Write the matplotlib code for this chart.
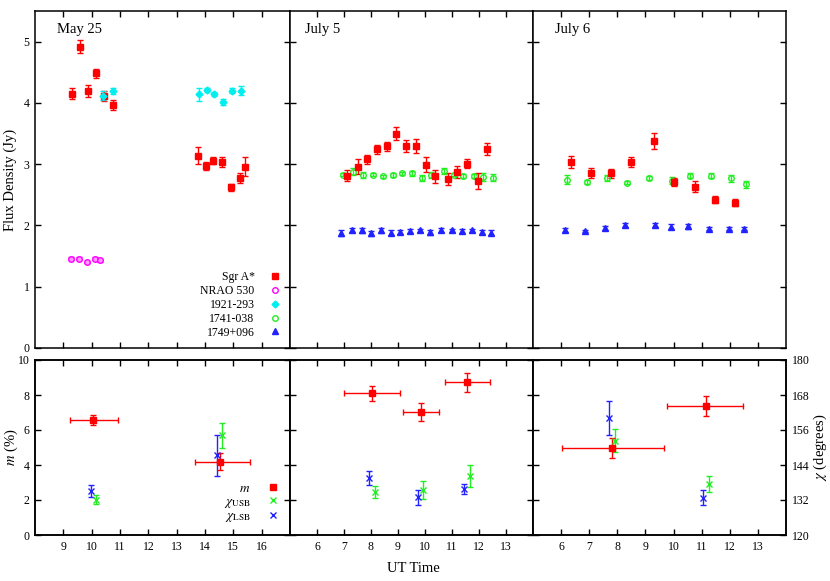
import matplotlib
matplotlib.use("Agg")
import matplotlib.pyplot as plt
from matplotlib.lines import Line2D
import numpy as np

plt.rcParams['font.family'] = ['Liberation Serif', 'DejaVu Serif']
plt.rcParams['mathtext.fontset'] = 'stix'

# ---------------- data ----------------
# May 25
sgr_may_t = [9.32, 9.59, 9.87, 10.14, 10.45, 10.77, 13.75, 14.03, 14.29, 14.60, 14.92, 15.22, 15.42]
sgr_may_f = [4.15, 4.92, 4.20, 4.48, 4.11, 3.96, 3.14, 2.97, 3.06, 3.04, 2.62, 2.77, 2.96]
sgr_may_e = [0.09, 0.11, 0.10, 0.08, 0.08, 0.08, 0.14, 0.07, 0.06, 0.08, 0.05, 0.08, 0.16]

nrao_may_t = [9.28, 9.55, 9.82, 10.10, 10.28]
nrao_may_f = [1.46, 1.46, 1.40, 1.46, 1.43]
nrao_may_e = [0.02, 0.02, 0.02, 0.02, 0.02]

q1921_may_t = [10.40, 10.77, 13.80, 14.06, 14.33, 14.65, 14.95, 15.28]
q1921_may_f = [4.12, 4.20, 4.14, 4.21, 4.15, 4.02, 4.20, 4.20]
q1921_may_e = [0.08, 0.05, 0.11, 0.03, 0.03, 0.05, 0.04, 0.07]

# July 5
sgr_j5_t = [7.11, 7.50, 7.87, 8.23, 8.58, 8.94, 9.31, 9.68, 10.02, 10.38, 10.85, 11.20, 11.55, 11.95, 12.31]
sgr_j5_f = [2.81, 2.96, 3.08, 3.24, 3.29, 3.50, 3.30, 3.30, 2.99, 2.80, 2.76, 2.87, 3.01, 2.72, 3.25]
sgr_j5_e = [0.09, 0.12, 0.07, 0.07, 0.07, 0.10, 0.10, 0.11, 0.12, 0.11, 0.10, 0.10, 0.08, 0.13, 0.10]

q1741_j5_t = [6.96, 7.32, 7.71, 8.09, 8.44, 8.80, 9.15, 9.51, 9.88, 10.23, 10.70, 11.06, 11.42, 11.80, 12.16, 12.50]
q1741_j5_f = [2.83, 2.88, 2.83, 2.83, 2.80, 2.82, 2.85, 2.85, 2.78, 2.83, 2.89, 2.83, 2.81, 2.81, 2.79, 2.78]
q1741_j5_e = [0.03, 0.06, 0.05, 0.03, 0.03, 0.03, 0.03, 0.04, 0.05, 0.05, 0.05, 0.03, 0.03, 0.03, 0.06, 0.06]

q1749_j5_t = [6.90, 7.31, 7.67, 8.01, 8.37, 8.73, 9.09, 9.44, 9.81, 10.17, 10.59, 11.00, 11.36, 11.73, 12.10, 12.44]
q1749_j5_f = [1.87, 1.93, 1.92, 1.87, 1.92, 1.88, 1.89, 1.91, 1.92, 1.89, 1.93, 1.92, 1.91, 1.92, 1.89, 1.88]
q1749_j5_e = [0.05, 0.03, 0.04, 0.04, 0.04, 0.04, 0.03, 0.03, 0.03, 0.04, 0.03, 0.03, 0.03, 0.03, 0.03, 0.04]

# July 6
sgr_j6_t = [6.35, 7.06, 7.78, 8.49, 9.29, 10.00, 10.76, 11.46, 12.18]
sgr_j6_f = [3.03, 2.86, 2.85, 3.03, 3.38, 2.71, 2.63, 2.42, 2.37]
sgr_j6_e = [0.10, 0.08, 0.07, 0.08, 0.13, 0.07, 0.09, 0.06, 0.06]

q1741_j6_t = [6.20, 6.92, 7.63, 8.34, 9.13, 9.94, 10.59, 11.32, 12.03, 12.59]
q1741_j6_f = [2.75, 2.71, 2.77, 2.70, 2.78, 2.73, 2.81, 2.81, 2.77, 2.67]
q1741_j6_e = [0.07, 0.03, 0.05, 0.03, 0.03, 0.06, 0.04, 0.04, 0.06, 0.06]

q1749_j6_t = [6.14, 6.86, 7.57, 8.28, 9.33, 9.91, 10.50, 11.27, 11.97, 12.52]
q1749_j6_f = [1.93, 1.91, 1.96, 2.01, 2.01, 1.98, 1.99, 1.95, 1.95, 1.95]
q1749_j6_e = [0.03, 0.02, 0.03, 0.03, 0.03, 0.04, 0.04, 0.02, 0.03, 0.02]

# Polarization: m (%) with time ranges, chi (degrees) USB / LSB
m_may_t = [10.06, 14.52]
m_may_v = [6.57, 4.19]
m_may_e = [0.30, 0.50]
m_may_lo = [9.22, 13.64]
m_may_hi = [10.93, 15.59]
usb_may_t = [10.17, 14.59]
usb_may_v = [132.1, 154.2]
usb_may_e = [1.6, 4.2]
lsb_may_t = [9.97, 14.41]
lsb_may_v = [135.2, 147.3]
lsb_may_e = [2.0, 6.9]

m_j5_t = [8.04, 9.84, 11.57]
m_j5_v = [8.09, 7.01, 8.72]
m_j5_e = [0.45, 0.52, 0.53]
m_j5_lo = [7.00, 9.19, 10.74]
m_j5_hi = [9.06, 10.50, 12.42]
usb_j5_t = [8.13, 9.94, 11.67]
usb_j5_v = [134.7, 135.4, 140.3]
usb_j5_e = [2.1, 3.2, 3.7]
lsb_j5_t = [7.94, 9.74, 11.46]
lsb_j5_v = [139.6, 132.9, 135.8]
lsb_j5_e = [2.5, 2.5, 1.8]

m_j6_t = [7.80, 11.15]
m_j6_v = [4.97, 7.39]
m_j6_e = [0.56, 0.58]
m_j6_lo = [6.04, 9.78]
m_j6_hi = [9.66, 12.46]
usb_j6_t = [7.91, 11.25]
usb_j6_v = [152.4, 137.5]
usb_j6_e = [3.8, 2.6]
lsb_j6_t = [7.69, 11.04]
lsb_j6_v = [160.0, 132.8]
lsb_j6_e = [5.8, 2.6]

panel_titles = ["May 25", "July 5", "July 6"]
xlims = [(8, 17), (5, 14), (5, 14)]
xticks = [list(range(9, 17)), list(range(6, 14)), list(range(6, 14))]
flux_ticks = [0, 1, 2, 3, 4, 5]
m_ticks = [0, 2, 4, 6, 8, 10]
chi_ticks = [120, 132, 144, 156, 168, 180]

# ---------------- style ----------------
RED = '#ff0000'
MAG = '#ff00ff'
CYAN = '#00eeee'
GREEN = '#22ee22'
BLUE = '#2222ff'
TICKFS = 8.5

W, H = 830, 581
fig = plt.figure(figsize=(W / 100, H / 100), dpi=100)

xpix = [(35, 290), (290, 533), (533, 786)]
top_y = (11, 348)
bot_y = (360, 535)


def rect(xp, yp):
    return [xp[0] / W, 1 - yp[1] / H, (xp[1] - xp[0]) / W, (yp[1] - yp[0]) / H]


def style(ax):
    ax.tick_params(direction='in', top=True, right=True, length=4, width=1,
                   labelsize=TICKFS, pad=4)
    for s in ax.spines.values():
        s.set_linewidth(1.1)


eb_kw = dict(linestyle='none', capsize=2.2, elinewidth=1.0, capthick=1.0)

top_axes = []
bot_axes = []
for i in range(3):
    ax = fig.add_axes(rect(xpix[i], top_y))
    ax.set_xlim(*xlims[i])
    ax.set_ylim(0, 5.5)
    ax.set_xticks(xticks[i])
    ax.set_yticks(flux_ticks)
    style(ax)
    ax.tick_params(labelbottom=False)
    if i > 0:
        ax.tick_params(labelleft=False)
    ax.text(0.085 if i != 1 else 0.062, 0.945, panel_titles[i], transform=ax.transAxes,
            fontsize=10.5, va='center', ha='left')
    top_axes.append(ax)

    bx = fig.add_axes(rect(xpix[i], bot_y))
    bx.set_xlim(*xlims[i])
    bx.set_ylim(0, 10)
    bx.set_xticks(xticks[i])
    bx.set_yticks(m_ticks)
    style(bx)
    bx.tick_params(right=False)
    if i > 0:
        bx.tick_params(labelleft=False)
    tw = bx.twinx()
    tw.set_ylim(120, 180)
    tw.set_yticks(chi_ticks)
    tw.tick_params(direction='in', length=4, width=1, labelsize=TICKFS, pad=4)
    for s in tw.spines.values():
        s.set_linewidth(1.1)
    if i < 2:
        tw.tick_params(labelright=False)
    bot_axes.append((bx, tw))

# top panels
a0, a1, a2 = top_axes
a0.errorbar(sgr_may_t, sgr_may_f, yerr=sgr_may_e, fmt='s', color=RED, ms=4.5, **eb_kw)
a0.errorbar(nrao_may_t, nrao_may_f, yerr=nrao_may_e, fmt='o', color=MAG, mfc='#ff99ff', ms=4, mew=1, **eb_kw)
a0.errorbar(q1921_may_t, q1921_may_f, yerr=q1921_may_e, fmt='D', color=CYAN, ms=3.5, **eb_kw)

a1.errorbar(q1741_j5_t, q1741_j5_f, yerr=q1741_j5_e, fmt='o', color=GREEN, mfc='none', ms=4, mew=1, **eb_kw)
a1.errorbar(q1749_j5_t, q1749_j5_f, yerr=q1749_j5_e, fmt='^', color=BLUE, ms=4, **eb_kw)
a1.errorbar(sgr_j5_t, sgr_j5_f, yerr=sgr_j5_e, fmt='s', color=RED, ms=4.5, **eb_kw)

a2.errorbar(q1741_j6_t, q1741_j6_f, yerr=q1741_j6_e, fmt='o', color=GREEN, mfc='none', ms=4, mew=1, **eb_kw)
a2.errorbar(q1749_j6_t, q1749_j6_f, yerr=q1749_j6_e, fmt='^', color=BLUE, ms=4, **eb_kw)
a2.errorbar(sgr_j6_t, sgr_j6_f, yerr=sgr_j6_e, fmt='s', color=RED, ms=4.5, **eb_kw)

handles = [
    Line2D([], [], ls='none', marker='s', color=RED, ms=4.5),
    Line2D([], [], ls='none', marker='o', color=MAG, mfc='none', ms=4, mew=1),
    Line2D([], [], ls='none', marker='D', color=CYAN, ms=3.5),
    Line2D([], [], ls='none', marker='o', color=GREEN, mfc='none', ms=4, mew=1),
    Line2D([], [], ls='none', marker='^', color=BLUE, ms=4),
]
labels = ["Sgr A*", "NRAO 530", "1921-293", "1741-038", "1749+096"]
a0.legend(handles, labels, loc='lower right', markerfirst=False, frameon=False,
          fontsize=TICKFS, handlelength=1.0, handletextpad=1.2, labelspacing=0.15,
          borderaxespad=0.4)

# bottom panels
pol = [
    (m_may_t, m_may_v, m_may_e, m_may_lo, m_may_hi, usb_may_t, usb_may_v, usb_may_e, lsb_may_t, lsb_may_v, lsb_may_e),
    (m_j5_t, m_j5_v, m_j5_e, m_j5_lo, m_j5_hi, usb_j5_t, usb_j5_v, usb_j5_e, lsb_j5_t, lsb_j5_v, lsb_j5_e),
    (m_j6_t, m_j6_v, m_j6_e, m_j6_lo, m_j6_hi, usb_j6_t, usb_j6_v, usb_j6_e, lsb_j6_t, lsb_j6_v, lsb_j6_e),
]
for (bx, tw), d in zip(bot_axes, pol):
    mt, mv, me, mlo, mhi, ut, uv, ue, lt, lv, le = d
    xe = [np.array(mt) - np.array(mlo), np.array(mhi) - np.array(mt)]
    tw.errorbar(ut, uv, yerr=ue, fmt='x', color=GREEN, ms=4, mew=1, **eb_kw)
    tw.errorbar(lt, lv, yerr=le, fmt='x', color=BLUE, ms=4, mew=1, **eb_kw)
    tw.errorbar(mt, np.array(mv) * 6 + 120, yerr=np.array(me) * 6, xerr=xe, fmt='s',
                color=RED, ms=4.5, **eb_kw)

bh = [
    Line2D([], [], ls='none', marker='s', color=RED, ms=4.5),
    Line2D([], [], ls='none', marker='x', color=GREEN, ms=4, mew=1),
    Line2D([], [], ls='none', marker='x', color=BLUE, ms=4, mew=1),
]
bl = [r"$m$", r"$\chi_{\rm USB}$", r"$\chi_{\rm LSB}$"]
bot_axes[0][1].legend(bh, bl, loc='lower right', markerfirst=False, frameon=False,
                      fontsize=TICKFS + 1, handlelength=1.0, handletextpad=1.2,
                      labelspacing=0.05, borderaxespad=0.4)

fig.text(0.012, 1 - 179.5 / H, "Flux Density (Jy)", rotation=90, ha='center', va='center', fontsize=10.5)
fig.text(0.014, 1 - 447.5 / H, r"$m$ (%)", rotation=90, ha='center', va='center', fontsize=10.5)
fig.text(0.988, 1 - 447.5 / H, r"$\chi$ (degrees)", rotation=90, ha='center', va='center', fontsize=10.5)
fig.text(413 / W, 1 - 568 / H, "UT Time", ha='center', va='center', fontsize=10.5)

fig.savefig("out.png", dpi=100)
